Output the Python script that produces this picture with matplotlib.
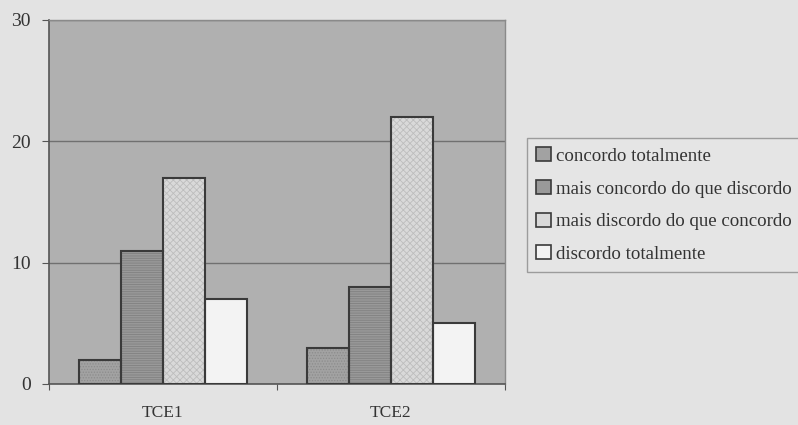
import matplotlib
matplotlib.use("Agg")
import matplotlib.pyplot as plt
from matplotlib.patches import Patch
import numpy as np

categories = ["TCE1", "TCE2"]
series_names = ["concordo totalmente", "mais concordo do que discordo",
                "mais discordo do que concordo", "discordo totalmente"]
concordo_totalmente = [2, 3]
mais_concordo = [11, 8]
mais_discordo = [17, 22]
discordo_totalmente = [7, 5]
y_ticks = [0, 10, 20, 30]

values = [concordo_totalmente, mais_concordo, mais_discordo, discordo_totalmente]
faces = ["#a2a2a2", "#999999", "#d9d9d9", "#f3f3f3"]
hatches = ["......", "-------", "xxxxx", ""]
hatch_cols = ["#8c8c8c", "#808080", "#bdbdbd", "#f3f3f3"]

plt.rcParams["font.family"] = ["Liberation Serif", "DejaVu Serif"]
plt.rcParams["hatch.linewidth"] = 0.6

fig = plt.figure(figsize=(7.98, 4.25), dpi=100, facecolor="#e3e3e3")
ax = fig.add_axes([49/798, 1-384/425, (505-49)/798, (384-20)/425])
ax.set_facecolor("#b0b0b0")

x = np.arange(len(categories))
group_w = 0.737
w = group_w / 4
handles = []
for i, (vals, fc, h, hc, name) in enumerate(zip(values, faces, hatches, hatch_cols, series_names)):
    pos = x - group_w/2 + w/2 + i*w
    ax.bar(pos, vals, w, color=fc, hatch=h, edgecolor=hc, linewidth=0, zorder=3)
    ax.bar(pos, vals, w, fill=False, edgecolor="#3a3a3a", linewidth=1.5, zorder=4)
    handles.append(Patch(facecolor=fc, edgecolor="#3a3a3a", linewidth=1.2, label=name))

ax.set_xlim(-0.5, 1.5)
ax.set_ylim(0, 30)
ax.set_yticks(y_ticks)
ax.set_yticklabels([str(t) for t in y_ticks], fontsize=14, color="#333333")
ax.yaxis.grid(True, color="#707070", linewidth=1.0, zorder=1)
ax.set_axisbelow(True)
ax.set_xticks([-0.5, 0.5, 1.5])
ax.set_xticklabels(["", "", ""])
ax.set_xticks(x, minor=True)
ax.set_xticklabels(categories, minor=True, fontsize=12.5, color="#333333")
ax.tick_params(axis="x", which="major", length=4, color="#555555")
ax.tick_params(axis="x", which="minor", length=0, pad=15)
ax.tick_params(axis="y", length=5, color="#555555", pad=8)
for s in ["left", "bottom"]:
    ax.spines[s].set_color("#555555")
    ax.spines[s].set_linewidth(1.2)
for s in ["top", "right"]:
    ax.spines[s].set_color("#8a8a8a")
    ax.spines[s].set_linewidth(1.0)

leg = fig.legend(handles=handles, loc="upper left", bbox_to_anchor=(527/798, 1-138/425),
                 borderaxespad=0, fontsize=13.6, frameon=True, fancybox=False,
                 handlelength=0.75, handleheight=0.75, handletextpad=0.3,
                 labelspacing=0.8, borderpad=0.5, labelcolor="#333333")
leg.get_frame().set_edgecolor("#8a8a8a")
leg.get_frame().set_facecolor("#e6e6e6")
leg.get_frame().set_linewidth(1.0)

fig.savefig("out.png", dpi=100, facecolor=fig.get_facecolor())
